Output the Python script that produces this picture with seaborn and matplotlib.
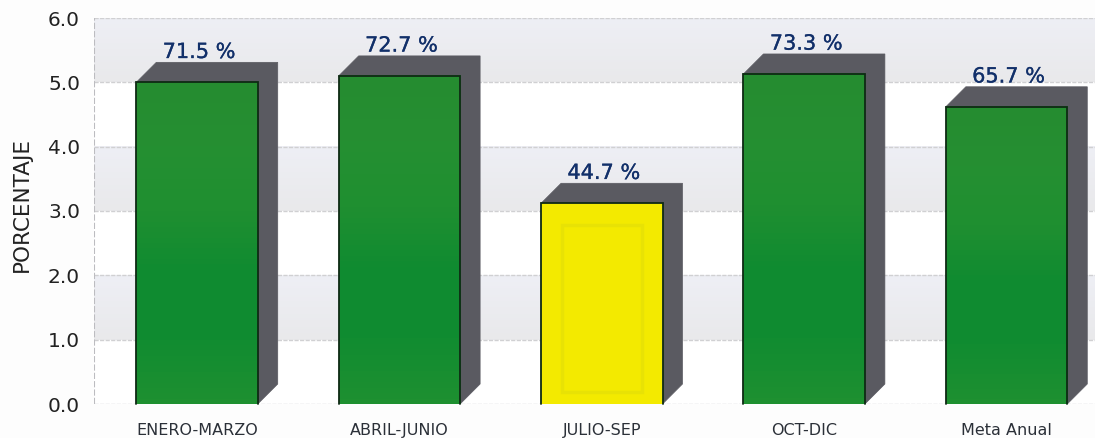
import numpy as np
import pandas as pd
import seaborn as sns
import matplotlib.pyplot as plt
import matplotlib.patheffects as pe
from matplotlib.colors import LinearSegmentedColormap
from matplotlib.patches import Polygon, Rectangle

periodos = ['ENERO-MARZO', 'ABRIL-JUNIO', 'JULIO-SEP', 'OCT-DIC', 'Meta Anual']
alturas = [5.0, 5.1, 3.12, 5.13, 4.62]
etiquetas = ['71.5 %', '72.7 %', '44.7 %', '73.3 %', '65.7 %']
colores = ['#1c8f30', '#1c8f30', '#f3ea00', '#1c8f30', '#1c8f30']
y_ticks = [0, 1, 2, 3, 4, 5, 6]

sns.set_theme(style='white')
plt.rcParams['font.family'] = ['DejaVu Sans']

df = pd.DataFrame({'periodo': periodos, 'altura': alturas})

W, H = 1095, 438
fig = plt.figure(figsize=(W / 100, H / 100), dpi=100, facecolor='#fdfdfd')
ax = fig.add_axes([94 / W, 1 - 404 / H, 1 - 94 / W, (404 - 18) / H])

sns.barplot(data=df, x='periodo', y='altura', hue='periodo', palette=colores,
            legend=False, width=0.6, saturation=1, ax=ax, zorder=3, linewidth=0)
ax.set_facecolor('white')

## franjas de fondo
grad_banda = LinearSegmentedColormap.from_list('banda', ['#e9e9eb', '#eeeff5'])
for y0 in [1, 3, 5]:
    ax.imshow(np.linspace(1, 0, 50).reshape(-1, 1), cmap=grad_banda, aspect='auto',
              extent=(-0.509, 4.437, y0, y0 + 1), zorder=0)

for y in y_ticks:
    ax.axhline(y, color='#d0d0d2', lw=1, ls=(0, (3, 1)), zorder=1)
ax.axvline(-0.509, color='#bcbcc0', lw=1.5, ls=(0, (3, 1)), zorder=1)

## caras 3D y etiquetas, a partir de las barras
dx = 20 / (1001 / (0.509 + 4.437))
dy = 20 / (386 / 6)
grad_verde = LinearSegmentedColormap.from_list(
    'verde', ['#1e9030', '#108c30', '#0f8b30', '#1f8f30', '#258f32', '#258c30'])
for p, txt, col in zip(ax.patches, etiquetas, colores):
    x0, w, h = p.get_x(), p.get_width(), p.get_height()
    x1 = x0 + w
    ax.add_patch(Polygon([(x0, h), (x0 + dx, h + dy), (x1 + dx, h + dy),
                          (x1 + dx, dy), (x1, 0)],
                         closed=True, fc='#5a5a61', ec='#5a5a61', lw=0.5, zorder=2))
    if col == '#1c8f30':
        ax.imshow(np.linspace(0, 1, 60).reshape(-1, 1), cmap=grad_verde, aspect='auto',
                  extent=(x0, x1, 0, h), origin='lower', zorder=3.5)
    else:
        ax.add_patch(Rectangle((x0 + w * 0.17, h * 0.06), w * 0.66, h * 0.83, fill=False,
                               ec='#e8e205', lw=2.5, zorder=3.5))
    ax.plot([x0, x0, x1, x1], [0, h, h, 0], color='#0e2a14', lw=1.3, zorder=4,
            solid_joinstyle='miter', clip_on=False)
    ax.text(x0 + w / 2 + 0.01, h + dy + 0.005, txt, ha='center', va='bottom', fontsize=15,
            color='#12306a', zorder=5,
            path_effects=[pe.withStroke(linewidth=0.2, foreground='#12306a')])
ax.set_xlim(-0.509, 4.437)
ax.set_ylim(0, 6)

ax.set_yticks(y_ticks)
ax.set_yticklabels([f'{v:.1f}' for v in y_ticks], fontsize=14.5, color='#222222')
ax.tick_params(axis='y', length=0, pad=10)
ax.tick_params(axis='x', length=0, pad=14, labelsize=11.5, labelcolor='#2b3038')
ax.set_xlabel('')
ax.set_ylabel('')
fig.text(22 / W, 1 - 205 / H, 'PORCENTAJE', rotation=90, ha='center', va='center',
         fontsize=15.5, color='#222222')
sns.despine(ax=ax, left=True, bottom=True, top=True, right=True)

fig.savefig('out.png', dpi=100, facecolor=fig.get_facecolor())
